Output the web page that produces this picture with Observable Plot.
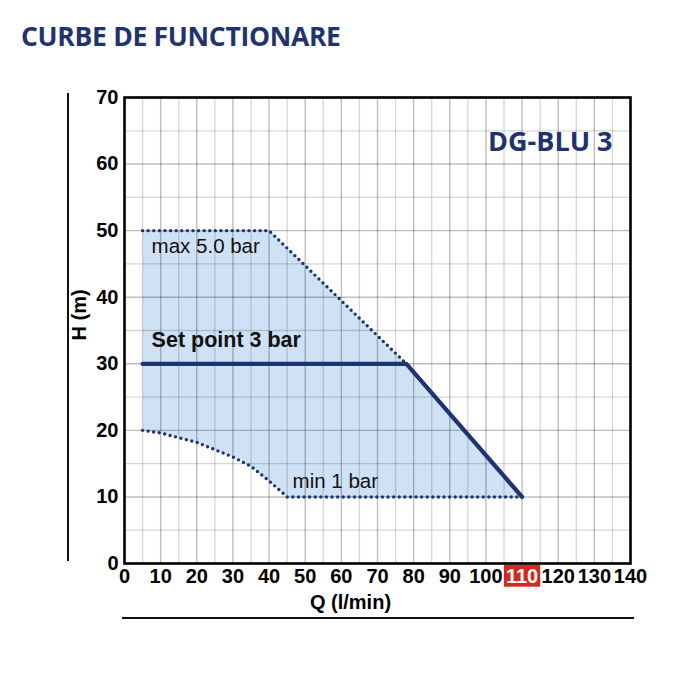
<!DOCTYPE html>
<html><head><meta charset="utf-8">
<script src="https://cdn.jsdelivr.net/npm/d3@7"></script>
<script src="https://cdn.jsdelivr.net/npm/@observablehq/plot@0.6"></script>
<style>
body{margin:0;background:#fff;width:680px;height:680px;position:relative;overflow:hidden}
#title{position:absolute;left:21px;top:21px;line-height:1.2;font-family:"Open Sans",sans-serif;font-weight:700;font-size:26.5px;color:#1f3370;letter-spacing:-0.3px;white-space:nowrap}
#chart{position:absolute;left:0;top:60px}
.vline{position:absolute;left:67px;top:93px;width:2px;height:468px;background:#111}
.hline{position:absolute;left:122px;top:617px;width:512px;height:2px;background:#111}
</style></head>
<body>
<div id="title">CURBE DE FUNCTIONARE</div>
<div class="vline"></div>
<div class="hline"></div>
<div id="chart"></div>
<script>
// ---- data ----
const xTicks = [0,10,20,30,40,50,60,70,80,90,100,110,120,130,140];
const xMinor = [5,15,25,35,45,55,65,75,85,95,105,115,125,135];
const yTicks = [0,10,20,30,40,50,60,70];
const yMinor = [5,15,25,35,45,55,65];
const highlightTick = 110;

const maxQ = [5, 40, 78];
const maxH = [50, 50, 30];
const setQ = [5, 78, 110];
const setH = [30, 30, 10];
const minQ = [5, 10, 20, 30, 35, 40, 45, 110];
const minH = [20, 19.6, 18.2, 16, 14.6, 12.4, 10, 10];

const model = "DG-BLU 3";
const xLabel = "Q (l/min)";
const yLabel = "H (m)";
const labels = [
  {q: 7.5, h: 47.6, text: "max 5.0 bar", weight: "normal"},
  {q: 7.5, h: 33.5, text: "Set point 3 bar", weight: "bold"},
  {q: 46.5, h: 12.4, text: "min 1 bar", weight: "normal"}
];

const zip = (xs, ys) => xs.map((x, i) => ({q: x, h: ys[i]}));
const maxLine = zip(maxQ, maxH);
const setLine = zip(setQ, setH);
const minLine = zip(minQ, minH);
// region: upper edge (max, then set-point tail) then lower edge reversed
const region = [...maxLine, ...setLine.slice(2), ...minLine.slice().reverse()];

const navy = "#1f3370";
const font = '"Liberation Sans",Arial,sans-serif';

const chart = Plot.plot({
  width: 680, height: 580,
  marginLeft: 124, marginRight: 50, marginTop: 37, marginBottom: 77,
  style: {fontFamily: font, background: "transparent", color: "#000"},
  x: {domain: [0, 140]},
  y: {domain: [0, 70]},
  marks: [
    Plot.line(region, {x: "q", y: "h", fill: "#cfe2f5", stroke: null}),
    Plot.gridX(xMinor, {stroke: "#000", strokeOpacity: 0.16, strokeWidth: 1.3}),
    Plot.gridY(yMinor, {stroke: "#000", strokeOpacity: 0.16, strokeWidth: 1.3}),
    Plot.gridX(xTicks, {stroke: "#000", strokeOpacity: 0.26, strokeWidth: 1.4}),
    Plot.gridY(yTicks, {stroke: "#000", strokeOpacity: 0.26, strokeWidth: 1.4}),
    Plot.line(maxLine, {x: "q", y: "h", stroke: navy, strokeWidth: 3.4, strokeDasharray: "0 5.6", strokeLinecap: "round"}),
    Plot.line(minLine, {x: "q", y: "h", stroke: navy, strokeWidth: 3.4, strokeDasharray: "0 5.6", strokeLinecap: "round"}),
    Plot.line(setLine, {x: "q", y: "h", stroke: navy, strokeWidth: 4.2, strokeLinejoin: "round"}),
    Plot.text(labels.filter(d => d.weight === "normal"), {x: "q", y: "h", text: "text", textAnchor: "start", fontSize: 20.5, fill: "#111"}),
    Plot.text(labels.filter(d => d.weight === "bold"), {x: "q", y: "h", text: "text", textAnchor: "start", fontSize: 21.5, fontWeight: "bold", fill: "#111"}),
    Plot.text([model], {frameAnchor: "top-right", dx: -18, dy: 34, fontFamily: '"Open Sans",sans-serif', fontWeight: "bold", fontSize: 27, fill: navy, textAnchor: "end"}),
    Plot.axisX(xTicks, {tickSize: 0, tickPadding: 5, fontSize: 20, fontWeight: "bold", fill: "#000", label: null}),
    Plot.axisY(yTicks, {tickSize: 0, tickPadding: 6, fontSize: 20, fontWeight: "bold", fill: "#000", label: null}),
    Plot.text([xLabel], {frameAnchor: "bottom", dx: -27, dy: 45, fontSize: 20, fontWeight: "bold", fill: "#000"}),
    Plot.text([{h: 33.5, t: yLabel}], {y: "h", text: "t", frameAnchor: "left", rotate: -90, dx: -45, fontSize: 20, fontWeight: "bold", fill: "#000"}),
    Plot.frame({stroke: "#000", strokeWidth: 2.6})
  ]
});
document.getElementById("chart").appendChild(chart);

// highlight the 110 tick label with a red box
const svg = chart.tagName.toLowerCase() === "svg" ? chart : chart.querySelector("svg");
const xAxisG = svg.querySelector('g[aria-label="x-axis tick label"]');
if (xAxisG) {
  xAxisG.querySelectorAll("text").forEach(t => {
    if (t.textContent.trim() === String(highlightTick)) {
      const b = t.getBBox();
      const tr = t.getAttribute("transform");
      const rect = document.createElementNS("http://www.w3.org/2000/svg", "rect");
      rect.setAttribute("x", b.x - 2);
      rect.setAttribute("y", b.y);
      rect.setAttribute("width", b.width + 4);
      rect.setAttribute("height", b.height);
      rect.setAttribute("fill", "#d42a1e");
      if (tr) rect.setAttribute("transform", tr);
      t.parentNode.insertBefore(rect, t);
      t.setAttribute("fill", "#fff");
    }
  });
}
</script>
</body></html>
